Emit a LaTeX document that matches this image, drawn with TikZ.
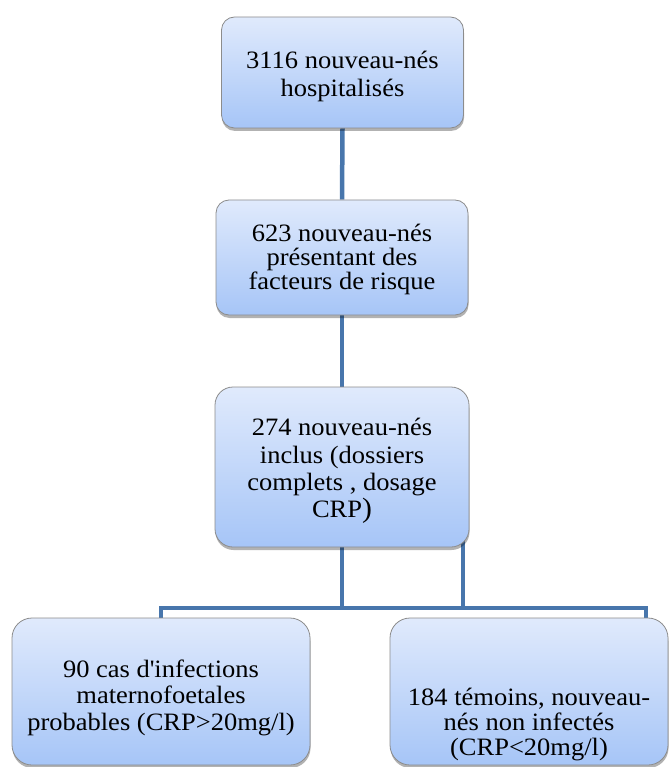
\documentclass[tikz,border=0pt]{standalone}
\usepackage{fontspec}
\setmainfont{Liberation Serif}[FakeStretch=1.06]
\usetikzlibrary{shadows,backgrounds}
\definecolor{linkc}{RGB}{72,118,172}
\definecolor{boxtop}{RGB}{224,234,252}
\definecolor{boxbot}{RGB}{166,197,247}
\definecolor{boxline}{RGB}{140,140,140}
\begin{document}
\begin{tikzpicture}[x=1pt,y=-1pt]
\tikzset{
  flowbox/.style={draw=boxline, line width=0.8pt, rounded corners=13pt,
    top color=boxtop, bottom color=boxbot,
    drop shadow={shadow xshift=0.5pt, shadow yshift=-3pt, opacity=0.3, fill=black},
    inner sep=0pt},
  boxtext/.style={inner sep=0pt, align=center},
  link/.style={draw=linkc, line width=4.5pt},
}
\useasboundingbox (0,0) rectangle (669,767);

\node[flowbox, minimum width=242pt, minimum height=111pt] (b1) at (342.5,72.5) {};
\node[boxtext, font=\fontsize{25}{28}\selectfont] (t1) at (342.5,76)
  {3116 nouveau-nés\\hospitalisés};
\node[flowbox, minimum width=252pt, minimum height=115pt] (b2) at (342,257.5) {};
\node[boxtext, font=\fontsize{25}{24}\selectfont] (t2) at (342,259)
  {623 nouveau-nés\\présentant des\\facteurs de risque};
\node[flowbox, minimum width=254pt, minimum height=160pt, rounded corners=18pt] (b3) at (342,467) {};
\node[boxtext, font=\fontsize{25}{27.3}\selectfont] (t3) at (342,471)
  {274 nouveau-nés\\inclus (dossiers\\complets , dosage\\CRP{\fontsize{28}{28}\selectfont)}};
\node[flowbox, minimum width=298pt, minimum height=147pt, rounded corners=20pt] (b4) at (161,691.5) {};
\node[boxtext, font=\fontsize{25}{26.5}\selectfont] (t4) at (161,697.5)
  {90 cas d\textquotesingle infections\\maternofoetales\\probables (CRP>20mg/l)};
\node[flowbox, minimum width=278pt, minimum height=147pt, rounded corners=20pt] (b5) at (529,691.5) {};
\node[boxtext, font=\fontsize{25}{25}\selectfont] (t5) at (529,724)
  {184 témoins, nouveau-\\nés non infectés\\(CRP<20mg/l)};

\begin{pgfonlayer}{background}
\coordinate (j) at (0,608);
\coordinate (r5) at ([xshift=117pt]b5.north);
\coordinate (b3r) at ([xshift=121pt]b3.south);
\draw[link] (b1.south) -- (b2.north);
\draw[link] (b2.south) -- (b3.north);
\draw[link] (b3.south) -- (b3.south |- j);
\draw[link] ([yshift=8pt]b3r) -- (b3r |- j);
\draw[link] (b4.north) -- (b4.north |- j) -- (r5 |- j) -- (r5);
\end{pgfonlayer}
\end{tikzpicture}
\end{document}
